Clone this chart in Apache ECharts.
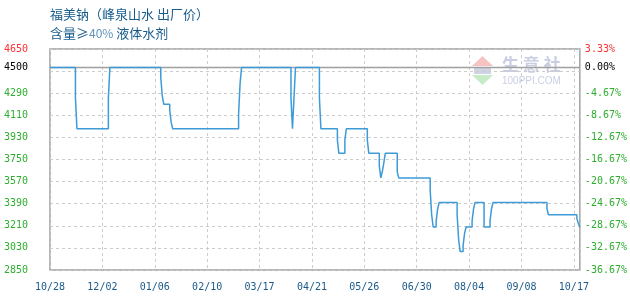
<!DOCTYPE html>
<html><head><meta charset="utf-8">
<script src="https://cdn.jsdelivr.net/npm/echarts@6/dist/echarts.min.js"></script>
<style>html,body{margin:0;padding:0;background:#fff}#c{width:630px;height:300px}</style>
</head><body><div id="c"></div>
<script>
const titleLine1 = '福美钠（峰泉山水 出厂价）';
const startDate = '2022-10-28';
const endDate = '2023-10-17';
const changeDates = [
  '2022-10-28','2022-11-14','2022-11-15','2022-12-06','2022-12-07',
  '2023-01-10','2023-01-11','2023-01-12','2023-01-16','2023-01-17','2023-01-18',
  '2023-03-03','2023-03-04','2023-03-05',
  '2023-04-07','2023-04-08','2023-04-09','2023-04-10',
  '2023-04-26','2023-04-27',
  '2023-05-08','2023-05-09','2023-05-13','2023-05-14','2023-05-28','2023-05-29',
  '2023-06-05','2023-06-06','2023-06-07','2023-06-08','2023-06-09',
  '2023-06-17','2023-06-18',
  '2023-07-09','2023-07-10','2023-07-11','2023-07-13','2023-07-14','2023-07-15',
  '2023-07-27','2023-07-28','2023-07-29','2023-07-31','2023-08-01','2023-08-02',
  '2023-08-06','2023-08-07','2023-08-08','2023-08-14','2023-08-18','2023-08-19','2023-08-20',
  '2023-09-25','2023-09-26','2023-10-15','2023-10-16','2023-10-17'
];
const prices = [
  4500,4250,4000,4250,4500,
  4420,4270,4200,4150,4050,4000,
  4120,4370,4500,
  4250,4000,4250,4500,
  4250,4000,
  3910,3800,3910,4000,3910,3800,
  3700,3600,3650,3720,3800,
  3650,3600,
  3500,3300,3200,3250,3350,3400,
  3300,3100,3000,3050,3150,3200,
  3250,3350,3400,3200,3250,3350,3400,
  3350,3300,3270,3230,3200
];
const xTickLabels = ['10/28','12/02','01/06','02/10','03/17','04/21','05/26','06/30','08/04','09/08','10/17'];
const yTickValues = [2850,3030,3210,3390,3570,3750,3930,4110,4290,4500,4650];
const yRightLabels = ['-36.67%','-32.67%','-28.67%','-24.67%','-20.67%','-16.67%','-12.67%','-8.67%','-4.67%','0.00%','3.33%'];
const basePrice = 4500;

const DAY = 86400000;
const t0 = Date.parse(startDate);
const dayOf = s => Math.round((Date.parse(s) - t0) / DAY);
const lastDay = dayOf(endDate);
const lineData = changeDates.map((d, i) => [dayOf(d), prices[i]]);

function labelColor(v) {
  v = Number(v);
  if (v === yTickValues[yTickValues.length - 1]) return '#ff3030';
  if (v === basePrice) return '#000000';
  return '#2fae2f';
}

const chart = echarts.init(document.getElementById('c'));
chart.setOption({
  animation: false,
  title: {
    left: 50, top: 5, padding: 0,
    text: titleLine1 + '\n含量≥{a|40%} 液体水剂',
    textStyle: {
      fontFamily: 'Noto Sans CJK SC', fontSize: 13, fontWeight: 'normal',
      color: '#165b8c', lineHeight: 19,
      rich: { a: { fontFamily: 'Noto Sans CJK SC', fontSize: 12, color: '#5f93bb', lineHeight: 19 } }
    }
  },
  grid: { left: 50, right: 50, top: 49, bottom: 30, show: true, borderColor: '#a0a0a0', borderWidth: 1.5, backgroundColor: 'transparent' },
  xAxis: {
    type: 'value', min: 0, max: lastDay, interval: 35,
    axisLine: { show: false }, axisTick: { show: false },
    splitLine: { show: true, lineStyle: { color: '#cccccc', type: [3, 3], width: 1 } },
    axisLabel: {
      margin: 12, fontFamily: 'DejaVu Sans Mono', fontSize: 10, color: '#1a5a8a',
      showMaxLabel: true, showMinLabel: true,
      formatter: v => (v % 35 === 0 ? (xTickLabels[v / 35] || '') : '')
    }
  },
  yAxis: [{
    type: 'value', min: 2850, max: 4650, interval: 180, position: 'left',
    axisLine: { show: false }, axisTick: { show: false },
    splitLine: { show: true, lineStyle: { color: '#cccccc', type: [3, 3], width: 1 } },
    axisLabel: {
      customValues: yTickValues, margin: 22,
      fontFamily: 'DejaVu Sans Mono', fontSize: 10,
      color: labelColor,
      formatter: v => String(v)
    }
  }, {
    type: 'value', min: 2850, max: 4650, interval: 180, position: 'right',
    axisLine: { show: false }, axisTick: { show: false }, splitLine: { show: false },
    axisLabel: {
      customValues: yTickValues, margin: 5,
      fontFamily: 'DejaVu Sans Mono', fontSize: 10,
      color: labelColor,
      formatter: v => yRightLabels[yTickValues.indexOf(Number(v))] || ''
    }
  }],
  graphic: [
    { type: 'polygon', silent: true, shape: { points: [[472, 66], [482.5, 56], [493, 66]] }, style: { fill: '#f6c2c2' } },
    { type: 'rect', silent: true, shape: { x: 474, y: 67, width: 17, height: 7 }, style: { fill: '#cfd3e3' } },
    { type: 'polygon', silent: true, shape: { points: [[472, 75], [493, 75], [482.5, 85]] }, style: { fill: '#c6ebc6' } },
    { type: 'text', silent: true, left: 502, top: 56, style: { text: '生 意 社', fill: '#c9cee2', font: 'bold 17px "Noto Sans CJK SC"' } },
    { type: 'text', silent: true, left: 502, top: 76, style: { text: '100PPI.COM', fill: '#c9cee2', font: '10px "Liberation Sans"' } }
  ],
  series: [{
    type: 'line', z: 1, silent: true, symbol: 'none',
    data: [[0, basePrice], [lastDay, basePrice]],
    lineStyle: { color: '#a0a0a0', width: 1.5 }
  }, {
    type: 'line', z: 3, step: 'end', symbol: 'none',
    data: lineData,
    lineStyle: { color: '#3d9bd8', width: 1.5 }
  }]
});
</script></body></html>
